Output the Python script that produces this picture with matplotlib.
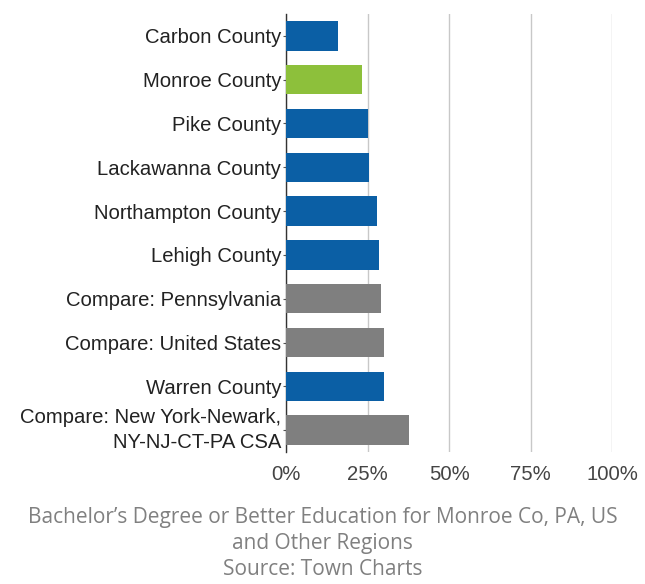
import matplotlib.pyplot as plt

# Data
labels = ['Carbon County', 'Monroe County', 'Pike County', 'Lackawanna County',
          'Northampton County', 'Lehigh County', 'Compare: Pennsylvania',
          'Compare: United States', 'Warren County',
          'Compare: New York-Newark,\nNY-NJ-CT-PA CSA']
values = [15.9, 23.2, 25.1, 25.6, 27.9, 28.4, 29.1, 30.2, 30.2, 37.6]
kinds = ['county', 'focus', 'county', 'county', 'county', 'county',
         'compare', 'compare', 'county', 'compare']
ticks = [0, 25, 50, 75, 100]
tick_labels = ['0%', '25%', '50%', '75%', '100%']

colors = {'county': '#0B5FA5', 'focus': '#8DC03B', 'compare': '#7F7F7F'}

plt.rcParams['font.family'] = ['Liberation Sans', 'DejaVu Sans']

fig = plt.figure(figsize=(6.45, 5.84), dpi=100)
ax = fig.add_axes([286 / 645, 1 - 452 / 584, (612 - 286) / 645, (452 - 14) / 584])

pos = list(range(len(labels)))
ax.barh(pos, values, height=0.67, color=[colors[k] for k in kinds], zorder=3)

ax.set_ylim(len(labels) - 0.5, -0.5)
ax.set_xlim(0, 100)
ax.set_yticks(pos)
ax.set_yticklabels(labels, fontsize=14.6, color='#222222', linespacing=1.4)
# two-line label sits centred on its bar
ax.get_yticklabels()[-1].set_va('center')
ax.set_xticks(ticks)
ax.set_xticklabels(tick_labels, fontsize=14.6, color='#444444')

ax.xaxis.grid(True, color='#C8C8C8', linewidth=1, zorder=0)
ax.tick_params(axis='x', length=0, pad=9)
ax.tick_params(axis='y', length=2, color='#555555', pad=1.5)
for s in ['top', 'right', 'bottom']:
    ax.spines[s].set_visible(False)
ax.spines['left'].set_color('#333333')
ax.spines['left'].set_linewidth(1)

caption = ("Bachelor\u2019s Degree or Better Education for Monroe Co, PA, US\n"
           "and Other Regions\nSource: Town Charts")
fig.text(0.5, 1 - 507 / 584, caption, ha='center', va='top', fontsize=15,
         color='#808080', family=['Open Sans', 'DejaVu Sans'], linespacing=1.32)

fig.savefig('out.png', dpi=100)
